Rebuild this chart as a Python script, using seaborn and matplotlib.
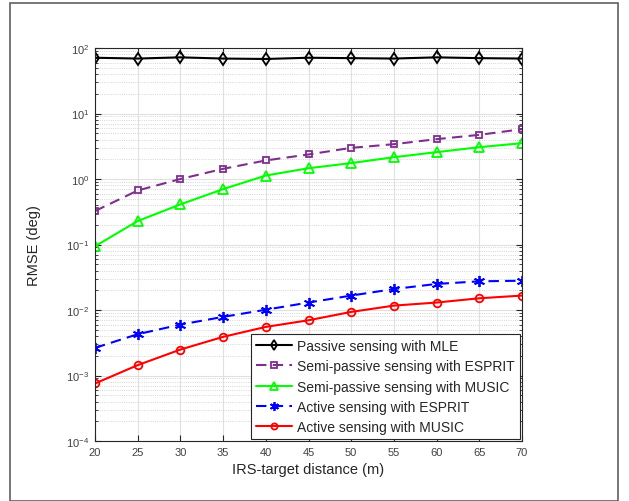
import numpy as np
import pandas as pd
import seaborn as sns
import matplotlib.pyplot as plt
from matplotlib.patches import Rectangle
from matplotlib.ticker import LogLocator, NullFormatter

# IRS-target distance (m)
distance = [20, 25, 30, 35, 40, 45, 50, 55, 60, 65, 70]

# RMSE (deg)
passive_mle = [71, 69, 72, 69, 68, 71, 70, 69, 72, 70, 69]
semi_esprit = [0.324, 0.668, 1.0, 1.43, 1.92, 2.37, 2.99, 3.40, 4.06, 4.72, 5.76]
semi_music = [0.094, 0.228, 0.41, 0.70, 1.13, 1.46, 1.75, 2.15, 2.57, 3.06, 3.52]
active_esprit = [0.00264, 0.00427, 0.00599, 0.00785, 0.0101, 0.0130, 0.0166, 0.0209, 0.0250, 0.0274, 0.0280]
active_music = [0.000755, 0.00144, 0.00249, 0.00389, 0.00552, 0.00697, 0.00935, 0.01167, 0.0130, 0.0151, 0.0166]

labels = [
    "Passive sensing with MLE",
    "Semi-passive sensing with ESPRIT",
    "Semi-passive sensing with MUSIC",
    "Active sensing with ESPRIT",
    "Active sensing with MUSIC",
]
series = [passive_mle, semi_esprit, semi_music, active_esprit, active_music]

df = pd.DataFrame({
    "distance": distance * len(series),
    "rmse": np.concatenate(series),
    "method": np.repeat(labels, len(distance)),
})

sns.set_style("ticks")
plt.rcParams["font.family"] = ["Liberation Sans", "DejaVu Sans"]
plt.rcParams["mathtext.default"] = "regular"

fig = plt.figure(figsize=(6.29, 5.02), dpi=100)
ax = fig.add_axes([95 / 629, 1 - 442 / 502, 427 / 629, 393 / 502])

asterisk = (6, 2, 0)
styles = {
    labels[0]: dict(color="black", ls="-", marker="d", ms=6.5),
    labels[1]: dict(color="#7E2F8E", ls=(0, (5, 3)), marker="s", ms=5),
    labels[2]: dict(color="#00FF00", ls="-", marker="^", ms=6.5),
    labels[3]: dict(color="#0000FF", ls=(0, (5, 3)), marker=asterisk, ms=8),
    labels[4]: dict(color="#FF0000", ls="-", marker="o", ms=5.5),
}

for name in labels:
    st = styles[name]
    sub = df[df["method"] == name]
    sns.lineplot(data=sub, x="distance", y="rmse", ax=ax, label=name,
                 color=st["color"], linestyle=st["ls"], marker=st["marker"],
                 markersize=st["ms"], markerfacecolor="none",
                 markeredgecolor=st["color"], markeredgewidth=1.3,
                 linewidth=1.5)

ax.set_yscale("log")
ax.set_xlim(20, 70)
ax.set_ylim(1e-4, 1e2)
ax.set_xticks(distance)
ax.yaxis.set_major_locator(LogLocator(base=10, numticks=10))
ax.yaxis.set_minor_locator(LogLocator(base=10, subs=np.arange(2, 10), numticks=100))
ax.yaxis.set_minor_formatter(NullFormatter())

ax.grid(True, which="major", color="#e0e0e0", linewidth=0.8)
ax.grid(True, which="minor", axis="y", color="#c8c8c8", linestyle=":", linewidth=0.6)
ax.set_axisbelow(True)

ax.tick_params(which="both", direction="in", top=True, right=True,
               labelsize=8, colors="#262626", labelcolor="#404040")
ax.tick_params(which="major", length=4, pad=4)
ax.tick_params(which="minor", length=2)
for s in ax.spines.values():
    s.set_color("#262626")
    s.set_linewidth(0.8)

ax.set_xlabel("IRS-target distance (m)", fontsize=10.5, color="#262626", labelpad=4)
ax.set_ylabel("RMSE (deg)", fontsize=10.5, color="#262626", labelpad=18)

leg = ax.legend(loc="lower right", fontsize=10, frameon=True, fancybox=False,
                edgecolor="#262626", framealpha=1, handlelength=2.6,
                handletextpad=0.35, borderpad=0.35, labelspacing=0.45,
                borderaxespad=0.15, markerscale=0.8)
leg.get_frame().set_linewidth(0.8)

# outer frame around the figure
fig.patches.append(Rectangle((10 / 629, 0), 608 / 629, 1 - 4 / 502,
                             transform=fig.transFigure, fill=False,
                             edgecolor="#606060", linewidth=1.2))

fig.savefig("out.png", dpi=100)
